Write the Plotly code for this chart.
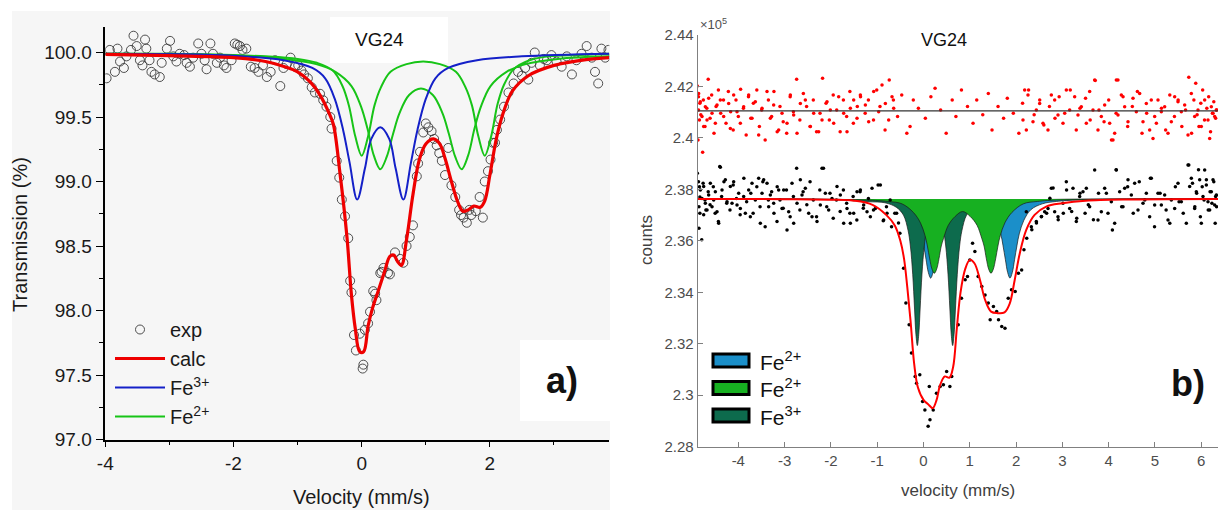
import plotly.graph_objects as go

FONT = "Liberation Sans, Arial, sans-serif"

# ---------------- panel a) : transmission (%) vs velocity (mm/s) ----------------
exp_v = [-3.98, -3.93, -3.85, -3.81, -3.77, -3.71, -3.67, -3.60, -3.56, -3.51, -3.46, -3.42, -3.38, -3.36,
         -3.31, -3.28, -3.23, -3.15, -3.12, -3.04, -2.99, -2.94, -2.89, -2.84, -2.77, -2.73, -2.68, -2.63,
         -2.55, -2.50, -2.45, -2.42, -2.36, -2.32, -2.26, -2.21, -2.15, -2.11, -2.03, -1.98, -1.94, -1.90,
         -1.86, -1.80, -1.73, -1.67, -1.61, -1.54, -1.48, -1.42, -1.35, -1.27, -1.22, -1.17, -1.11, -1.04,
         -0.99, -0.94, -0.90, -0.84, -0.78, -0.73, -0.65, -0.60, -0.55, -0.49, -0.47, -0.39, -0.35, -0.31,
         -0.26, -0.21, -0.18, -0.16, -0.12, -0.09, -0.03, 0.015, 0.026, 0.05, 0.10, 0.13, 0.18, 0.21, 0.23,
         0.29, 0.31, 0.34, 0.41, 0.44, 0.52, 0.60, 0.65, 0.70, 0.75, 0.80, 0.86, 0.88, 0.91, 0.96, 1.00,
         1.04, 1.09, 1.13, 1.17, 1.21, 1.25, 1.30, 1.35, 1.40, 1.46, 1.52, 1.55, 1.59, 1.64, 1.68, 1.71,
         1.78, 1.84, 1.89, 1.92, 1.97, 2.01, 2.05, 2.08, 2.11, 2.16, 2.22, 2.29, 2.37, 2.44, 2.50, 2.55,
         2.60, 2.65, 2.70, 2.78, 2.84, 2.89, 2.96, 3.04, 3.12, 3.20, 3.28, 3.35, 3.43, 3.51, 3.59, 3.64,
         3.69, 3.74, 3.80, 3.85]
exp_t = [99.80, 100.02, 99.85, 100.03, 99.93, 99.88, 99.97, 100.02, 100.13, 100.05, 99.94, 99.90, 100.10, 100.03,
         99.94, 99.85, 99.83, 99.81, 99.92, 100.03, 100.09, 99.97, 99.93, 99.99, 99.98, 99.92, 99.89, 99.96,
         100.07, 99.99, 99.94, 99.87, 100.07, 99.99, 99.92, 99.96, 99.90, 99.88, 99.94, 100.07, 100.06, 100.05,
         100.02, 100.03, 99.89, 99.88, 99.85, 99.90, 99.81, 99.85, 99.94, 99.74, 99.88, 99.91, 99.96, 99.89,
         99.90, 99.86, 99.83, 99.80, 99.73, 99.69, 99.68, 99.63, 99.58, 99.50, 99.41, 99.16, 99.03, 98.86,
         98.73, 98.56, 98.23, 98.14, 97.81, 97.69, 97.82, 97.55, 97.58, 97.85, 97.90, 97.99, 98.15, 98.13, 98.08,
         98.29, 98.30, 98.33, 98.29, 98.28, 98.45, 98.40, 98.37, 98.50, 98.57, 98.66, 99.04, 99.14, 99.23, 99.38, 99.45,
         99.42, 99.39, 99.33, 99.28, 99.22, 99.16, 99.05, 99.26, 98.97, 98.88, 98.78, 98.74, 98.72, 98.68, 98.78, 98.74,
         98.77, 98.88, 98.72, 99.00, 99.08, 99.17, 99.30, 99.30, 99.40, 99.48, 99.58, 99.69, 99.76, 99.85, 99.82, 99.88,
         99.79, 99.92, 100.00, 99.90, 99.95, 99.94, 99.98, 99.93, 99.89, 99.97, 99.83, 99.94, 99.99, 100.05, 99.96, 99.85,
         99.76, 100.03, 99.96, 100.02]

calc_v = [-4.0, -3.0, -2.0, -1.5, -1.2, -1.0, -0.8, -0.65, -0.5, -0.44, -0.34, -0.23, -0.16, -0.10, -0.03, 0.03,
          0.10, 0.17, 0.25, 0.35, 0.44, 0.50, 0.56, 0.62, 0.70, 0.80, 0.90, 1.00, 1.12, 1.22, 1.30, 1.40, 1.50,
          1.58, 1.66, 1.75, 1.85, 1.92, 2.00, 2.10, 2.20, 2.35, 2.60, 3.00, 3.50, 3.86]
calc_t = [99.985, 99.975, 99.96, 99.93, 99.89, 99.85, 99.77, 99.67, 99.52, 99.44, 99.07, 98.57, 98.12, 97.86, 97.68, 97.68,
          97.88, 98.02, 98.14, 98.29, 98.42, 98.43, 98.38, 98.35, 98.55, 98.90, 99.17, 99.29, 99.33, 99.29, 99.18, 99.00, 98.84,
          98.77, 98.78, 98.81, 98.80, 98.85, 99.05, 99.33, 99.52, 99.70, 99.82, 99.90, 99.945, 99.96]

fe3_v = [-4.0, -2.0, -1.22, -0.77, -0.57, -0.42, -0.29, -0.19, -0.07, 0.05, 0.15, 0.29, 0.43, 0.53, 0.65,
         0.77, 0.87, 1.00, 1.15, 1.35, 1.80, 2.50, 3.86]
fe3_t = [99.99, 99.975, 99.94, 99.88, 99.80, 99.64, 99.40, 99.15, 98.86, 99.10, 99.33, 99.42, 99.33, 99.10, 98.86,
         99.15, 99.40, 99.64, 99.80, 99.88, 99.94, 99.97, 99.99]

fe2a_v = [-4.0, -3.0, -2.0, -1.5, -1.0, -0.7, -0.45, -0.3, -0.2, -0.1, 0.0, 0.1, 0.2, 0.3, 0.45, 0.7, 0.96,
          1.22, 1.47, 1.62, 1.72, 1.82, 1.92, 2.02, 2.12, 2.22, 2.37, 2.62, 2.92, 3.4, 3.86]
fe2a_t = [99.99, 99.99, 99.98, 99.97, 99.95, 99.92, 99.86, 99.74, 99.59, 99.35, 99.20, 99.35, 99.59, 99.73, 99.85, 99.91, 99.93,
          99.91, 99.85, 99.73, 99.59, 99.35, 99.20, 99.35, 99.60, 99.75, 99.87, 99.94, 99.97, 99.98, 99.99]

fe2b_v = [-4.0, -2.21, -1.21, -0.71, -0.41, -0.16, -0.01, 0.09, 0.19, 0.29, 0.39, 0.49, 0.59, 0.74, 0.925,
          1.11, 1.26, 1.36, 1.46, 1.56, 1.66, 1.76, 1.86, 2.01, 2.26, 2.56, 3.06, 3.86]
fe2b_t = [99.99, 99.98, 99.95, 99.91, 99.85, 99.74, 99.58, 99.41, 99.20, 99.095, 99.19, 99.37, 99.53, 99.67, 99.72,
          99.67, 99.53, 99.37, 99.19, 99.095, 99.20, 99.41, 99.58, 99.74, 99.85, 99.91, 99.95, 99.97]

a_xticks = [-4, -2, 0, 2]
a_xtick_text = ["-4", "-2", "0", "2"]

# ---------------- panel b) : counts (x 10^5) vs velocity (mm/s) ----------------
cnt_v = [-4.885, -4.86, -4.84, -4.83, -4.85, -4.83, -4.85, -4.79, -4.76, -4.72, -4.70, -4.65, -4.61, -4.54,
         -4.50, -4.43, -4.40, -4.36, -4.31, -4.25, -4.18, -4.11, -4.04, -3.96, -3.88, -3.82, -3.73, -3.68,
         -3.60, -3.53, -3.47, -3.42, -3.35, -3.28, -3.23, -3.16, -3.10, -3.03, -2.96, -2.88, -2.81, -2.74,
         -2.67, -2.60, -2.52, -2.45, -2.38, -2.31, -2.24, -2.16, -2.09, -2.02, -1.95, -1.88, -1.80, -1.73,
         -1.66, -1.59, -1.52, -1.44, -1.37, -1.30, -1.19, -1.08, -0.98, -0.87, -0.80, -0.72, -0.69, -0.62,
         -0.58, -0.54, -0.51, -0.43, -0.38, -0.31, -0.26, -0.18, -0.15, -0.08, -0.02, 0.03, 0.10, 0.125,
         0.14, 0.21, 0.28, 0.36, 0.43, 0.50, 0.57, 0.61, 0.75, 0.82, 0.90, 0.95, 1.00, 1.06, 1.11, 1.18,
         1.26, 1.33, 1.40, 1.44, 1.51, 1.58, 1.62, 1.69, 1.76, 1.83, 1.90, 1.98, 2.05, 2.12, 2.17, 2.23,
         2.34, 2.44, 2.55, 2.66, 2.73, 2.80, 2.91, 3.02, 3.09, 3.20, 3.31, 3.38, 3.49, 3.56, 3.67, 3.78,
         3.95, 4.08, 4.16, 4.28, 4.41, 4.53, 4.66, 4.78, 4.90, 4.99, 5.11, 5.24, 5.32, 5.44, 5.52, 5.61,
         5.73, 5.81, 5.86, 5.90, 5.94, 5.98, 6.02, 6.06, 6.11, 6.15, 6.19, 6.23, 6.27, 6.30, 6.31, 6.33]
cnt_y = [2.3863, 2.3830, 2.3810, 2.3770, 2.3733, 2.3707, 2.3649, 2.3604, 2.3824, 2.3759, 2.3720, 2.3791, 2.3740, 2.3810,
         2.3707, 2.3675, 2.3889, 2.3772, 2.3830, 2.3746, 2.3720, 2.3817, 2.3765, 2.3701, 2.3843, 2.3752, 2.3785, 2.3707,
         2.3810, 2.3733, 2.3830, 2.3655, 2.3759, 2.3791, 2.3707, 2.3810, 2.3759, 2.3727, 2.3798, 2.3694, 2.3772, 2.3882,
         2.3720, 2.3791, 2.3740, 2.3830, 2.3759, 2.3694, 2.3798, 2.3882, 2.3733, 2.3785, 2.3688, 2.3759, 2.3714, 2.3798,
         2.3746, 2.3707, 2.3772, 2.3681, 2.3791, 2.3727, 2.3765, 2.3720, 2.3817, 2.3678, 2.3733, 2.3759, 2.3655, 2.3707,
         2.3707, 2.3669, 2.3630, 2.3494, 2.3358, 2.3274, 2.3164, 2.3073, 2.3047, 2.3080, 2.2976, 2.2943, 2.2879, 2.3034,
         2.2905, 2.2943, 2.3008, 2.3034, 2.3041, 2.3092, 2.3034, 2.3073, 2.3274, 2.3377, 2.3449, 2.3461, 2.3526, 2.3591, 2.3559, 2.3461,
         2.3423, 2.3390, 2.3358, 2.3293, 2.3345, 2.3325, 2.3293, 2.3267, 2.3260, 2.3377, 2.3410, 2.3403, 2.3474, 2.3487, 2.3565, 2.3610,
         2.3643, 2.3669, 2.3695, 2.3707, 2.3766, 2.3805, 2.3682, 2.3707, 2.3798, 2.3714, 2.3688, 2.3785, 2.3707, 2.3740, 2.3682, 2.3785,
         2.3785, 2.3642, 2.3876, 2.3733, 2.3810, 2.3707, 2.3830, 2.3759, 2.3843, 2.3655, 2.3785, 2.3720, 2.3668, 2.3810, 2.3752, 2.3707,
         2.3895, 2.3824, 2.3733, 2.3785, 2.3876, 2.3694, 2.3810, 2.3759, 2.3837, 2.3720, 2.3791, 2.3746, 2.3830, 2.3668, 2.3772, 2.3733]
# more baseline counts, left wing and right wing
cnt_left_v = [-4.820, -4.748, -4.712, -4.640, -4.568, -4.604, -4.496, -4.460, -4.424, -4.388, -4.352, -4.280, -4.244,
              -4.172, -4.136, -4.100, -4.028, -3.992, -3.956, -3.884, -3.848, -3.776, -3.740, -3.704, -3.632, -3.560,
              -3.524, -3.488, -3.452, -3.380, -3.344, -3.308, -3.236, -3.164, -3.128, -3.056, -3.020, -2.948, -2.912,
              -2.840, -2.804, -2.732, -2.660, -2.624, -2.552, -2.480, -2.408, -2.300, -2.228, -2.192, -2.120, -2.048,
              -1.976, -1.868, -1.796, -1.724, -1.652, -1.580, -1.508, -1.436, -1.364, -1.292, -1.220, -1.148, -1.112,
              -1.040, -0.932, -0.860, -0.788, -4.748, -4.784, -4.676, -4.532]
cnt_left_y = [2.3798, 2.3811, 2.3746, 2.3778, 2.3733, 2.3824, 2.3791, 2.3713, 2.3668, 2.3886, 2.3798, 2.3837, 2.3752,
              2.3811, 2.3746, 2.3830, 2.3739, 2.3785, 2.3726, 2.3772, 2.3707, 2.3798, 2.3694, 2.3824, 2.3759, 2.3843,
              2.3668, 2.3785, 2.3837, 2.3824, 2.3733, 2.3778, 2.3746, 2.3675, 2.3798, 2.3726, 2.3798, 2.3642, 2.3713,
              2.3824, 2.3668, 2.3746, 2.3837, 2.3778, 2.3804, 2.3707, 2.3694, 2.3675, 2.3739, 2.3882, 2.3785, 2.3720,
              2.3765, 2.3811, 2.3778, 2.3668, 2.3726, 2.3668, 2.3707, 2.3791, 2.3798, 2.3739, 2.3713, 2.3694, 2.3804,
              2.3726, 2.3817, 2.3681, 2.3707, 2.3701, 2.3765, 2.3720, 2.3759]
cnt_right_v = [2.221, 2.329, 2.437, 2.545, 2.617, 2.689, 2.761, 2.833, 2.905, 3.013, 3.085, 3.157, 3.229, 3.301,
               3.373, 3.445, 3.517, 3.589, 3.697, 3.769, 3.841, 3.913, 3.985, 4.057, 4.129, 4.165, 4.237, 4.309,
               4.345, 4.417, 4.489, 4.561, 4.633, 4.741, 4.813, 4.885, 4.921, 4.993, 5.065, 5.137, 5.209, 5.281,
               5.353, 5.425, 5.497, 5.569, 5.677, 5.713, 5.749, 5.785, 5.857, 5.893, 5.965, 6.001, 6.037, 6.073,
               6.109, 6.145, 6.181, 6.217, 6.253, 6.289, 6.325]
cnt_right_y = [2.3713, 2.3655, 2.3675, 2.3694, 2.3713, 2.3726, 2.3804, 2.3713, 2.3694, 2.3746, 2.3830, 2.3726, 2.3804, 2.3675,
               2.3772, 2.3791, 2.3804, 2.3733, 2.3875, 2.3681, 2.3713, 2.3804, 2.3707, 2.3752, 2.3668, 2.3875, 2.3791, 2.3733,
               2.3804, 2.3837, 2.3778, 2.3824, 2.3720, 2.3746, 2.3785, 2.3694, 2.3843, 2.3739, 2.3785, 2.3739, 2.3778, 2.3681,
               2.3759, 2.3726, 2.3824, 2.3752, 2.3668, 2.3895, 2.3811, 2.3843, 2.3726, 2.3791, 2.3837, 2.3668, 2.3772, 2.3875,
               2.3817, 2.3752, 2.3720, 2.3791, 2.3837, 2.3739, 2.3778]

res_v = [-4.885, -4.86, -4.86, -4.84, -4.87, -4.83, -4.81, -4.77, -4.755, -4.72, -4.68, -4.65, -4.61, -4.575,
         -4.525, -4.48, -4.43, -4.38, -4.32, -4.265, -4.215, -4.165, -4.11, -4.05, -4.0, -3.95, -3.89, -3.83,
         -3.78, -3.73, -3.675, -3.60, -3.545, -3.495, -3.42, -3.35, -3.28, -3.23, -3.16, -3.10, -3.03, -2.955,
         -2.88, -2.81, -2.74, -2.67, -2.595, -2.525, -2.45, -2.38, -2.31, -2.235, -2.18, -2.105, -2.034, -1.95,
         -1.875, -1.80, -1.73, -1.66, -1.59, -1.515, -1.43, -1.36, -1.26, -1.19, -1.08, -1.01, -0.94, -0.83,
         -0.74, -0.65, -0.56, -0.47, -0.36, -0.29, -0.22, -0.11, 0.04, 0.16, 0.25, 0.37, 0.49, 0.62, 0.70,
         0.82, 0.95, 1.07, 1.15, 1.28, 1.40, 1.48, 1.61, 1.73, 1.81, 1.94, 2.06, 2.14, 2.27, 2.39, 2.51,
         2.60, 2.72, 2.84, 2.93, 3.05, 3.17, 3.30, 3.38, 3.50, 3.60, 3.71, 3.79, 3.90, 4.00, 4.06, 4.16,
         4.20, 4.31, 4.41, 4.51, 4.62, 4.72, 4.82, 4.92, 5.03, 5.14, 5.23, 5.32, 5.42, 5.50, 5.58, 5.66,
         5.73, 5.79, 5.84, 5.88, 5.91, 5.95, 5.99, 6.03, 6.07, 6.12, 6.16, 6.20, 6.24, 6.27, 6.31, 6.33]
res_y = [2.4202, 2.4160, 2.4109, 2.4070, 2.3992, 2.4135, 2.4090, 2.3944, 2.4147, 2.4044, 2.4115, 2.4228, 2.4076, 2.4167,
         2.4018, 2.4122, 2.4186, 2.4096, 2.4147, 2.4057, 2.4180, 2.4102, 2.4031, 2.4147, 2.4083, 2.4189, 2.4115, 2.4011,
         2.4160, 2.4076, 2.4135, 2.4186, 2.4044, 2.4109, 2.3992, 2.4147, 2.4083, 2.4180, 2.4024, 2.4122, 2.4063, 2.4018,
         2.4160, 2.4102, 2.4228, 2.4070, 2.4173, 2.4122, 2.4044, 2.4147, 2.4024, 2.4096, 2.4232, 2.4135, 2.4070, 2.4167,
         2.4109, 2.4024, 2.4147, 2.4083, 2.4180, 2.4057, 2.4122, 2.4160, 2.4096, 2.4147, 2.4070, 2.4186, 2.4122, 2.4031,
         2.4225, 2.4147, 2.4083, 2.4167, 2.4018, 2.4044, 2.4147, 2.4115, 2.4076, 2.4160, 2.4193, 2.4109, 2.4018, 2.4147, 2.4083,
         2.4186, 2.4122, 2.4057, 2.4147, 2.4090, 2.4173, 2.4031, 2.4122, 2.4076, 2.4154, 2.4096, 2.4018, 2.4135, 2.4186, 2.4090, 2.4147,
         2.4050, 2.4122, 2.4076, 2.4160, 2.4096, 2.4186, 2.4031, 2.4115, 2.4154, 2.4070, 2.4223, 2.4109, 2.4063, 2.4147, 2.3992, 2.4096,
         2.4225, 2.4160, 2.4044, 2.4122, 2.4180, 2.4018, 2.4096, 2.4147, 2.4057, 2.4115, 2.4031, 2.4167, 2.4083, 2.4147, 2.4044, 2.4109,
         2.4236, 2.4018, 2.4147, 2.4212, 2.4090, 2.4044, 2.4135, 2.4186, 2.4070, 2.4115, 2.4160, 2.4024, 2.4096, 2.4141, 2.4076, 2.4109]
res_left_v = [-4.856, -4.820, -4.784, -4.748, -4.712, -4.676, -4.640, -4.568, -4.496, -4.460, -4.388, -4.316, -4.208,
              -4.172, -4.100, -4.028, -3.956, -3.884, -3.776, -3.704, -3.632, -3.560, -3.488, -3.380, -3.308, -3.236,
              -3.128, -3.056, -2.948, -2.876, -2.804, -2.732, -2.660, -2.552, -2.444, -2.372, -2.264, -2.192, -2.084,
              -2.012, -1.940, -1.832, -1.724, -1.652, -1.580, -1.508, -1.436, -1.364, -1.256, -1.184, -1.076, -0.968,
              -0.896, -0.824, -0.752, -0.680, -0.644]
res_left_y = [2.4173, 2.4141, 2.4083, 2.4044, 2.4121, 2.4070, 2.4154, 2.4096, 2.4057, 2.4128, 2.4147, 2.4083, 2.4134,
              2.4037, 2.4167, 2.4102, 2.4057, 2.4121, 2.4167, 2.4076, 2.4141, 2.4011, 2.4115, 2.4180, 2.4076, 2.4128,
              2.4031, 2.4096, 2.4057, 2.4167, 2.4089, 2.4018, 2.4134, 2.4147, 2.4044, 2.4096, 2.4024, 2.4070, 2.4141,
              2.4109, 2.4057, 2.4160, 2.4096, 2.4024, 2.4115, 2.4147, 2.4076, 2.4167, 2.4128, 2.4063, 2.4180, 2.4102,
              2.4206, 2.4134, 2.4070, 2.4160, 2.4115]
res_right_v = [2.185, 2.257, 2.149, 2.221, 2.365, 2.437, 2.509, 2.581, 2.689, 2.761, 2.833, 2.905, 3.013, 3.085,
               3.157, 3.265, 3.337, 3.409, 3.517, 3.589, 3.661, 3.769, 3.841, 3.913, 4.021, 4.093, 4.129, 4.201,
               4.273, 4.345, 4.417, 4.525, 4.597, 4.669, 4.741, 4.813, 4.885, 4.957, 4.993, 5.065, 5.137, 5.209,
               5.281, 5.353, 5.425, 5.497, 5.569, 5.641, 5.713, 5.785, 5.857, 5.929, 6.001, 6.073, 6.145, 6.181,
               6.217, 6.253, 6.289, 6.325, 3.697, 4.165]
res_right_y = [2.4186, 2.4167, 2.4070, 2.4031, 2.4063, 2.4109, 2.4134, 2.4057, 2.4031, 2.4167, 2.4147, 2.4089, 2.4057, 2.4186,
               2.4109, 2.4160, 2.4089, 2.4121, 2.4057, 2.4180, 2.4109, 2.4031, 2.4083, 2.4128, 2.4057, 2.3992, 2.4018, 2.4089,
               2.4167, 2.4121, 2.4063, 2.4154, 2.4102, 2.4173, 2.4063, 2.4134, 2.4031, 2.3998, 2.4083, 2.4147, 2.4102, 2.4121,
               2.4018, 2.4063, 2.4160, 2.4141, 2.4102, 2.4128, 2.4011, 2.4173, 2.4083, 2.4109, 2.4044, 2.4147, 2.4070, 2.3998,
               2.4121, 2.4096, 2.4083, 2.4109, 2.4225, 2.4225]
res_level = 2.4105

fit_v = [-4.877, -3.0, -2.0, -1.5, -1.1, -0.8, -0.62, -0.5, -0.42, -0.35, -0.28, -0.2, -0.12, 0.0, 0.1, 0.2,
         0.28, 0.36, 0.46, 0.56, 0.64, 0.72, 0.8, 0.9, 1.0, 1.1, 1.22, 1.33, 1.46, 1.6, 1.75, 1.86, 1.97,
         2.08, 2.22, 2.4, 2.65, 3.0, 3.5, 4.5, 6.361]
fit_y = [2.3763, 2.3762, 2.3760, 2.3756, 2.3740, 2.3700, 2.3660, 2.3600, 2.3530, 2.3420, 2.3290, 2.3120, 2.3030, 2.2982, 2.2965, 2.2950,
         2.2980, 2.3040, 2.3073, 2.3068, 2.3110, 2.3260, 2.3400, 2.3490, 2.3526, 2.3513, 2.3448, 2.3371, 2.3325, 2.3319, 2.3322, 2.3355, 2.3448,
         2.3552, 2.3643, 2.3701, 2.3733, 2.3746, 2.3756, 2.3761, 2.3763]

# fitted sub-spectra (filled down from the baseline)
blue_v = [-4.877, -1.345, -0.845, -0.545, -0.295, -0.145, -0.045, 0.005, 0.055, 0.105, 0.155, 0.205, 0.255, 0.305,
          0.355, 0.455, 0.605, 0.855, 1.01, 1.168, 1.418, 1.568, 1.668, 1.718, 1.768, 1.818, 1.868, 1.918, 1.968,
          2.018, 2.068, 2.168, 2.318, 2.568, 2.868, 3.368, 6.361]
blue_y = [2.3763, 2.3759, 2.3753, 2.3744, 2.3721, 2.3680, 2.3627, 2.3581, 2.3528, 2.3477, 2.3455, 2.3477, 2.3528, 2.3581,
          2.3627, 2.3675, 2.3710, 2.3730, 2.3737, 2.3730, 2.3710, 2.3675, 2.3627, 2.3581, 2.3528, 2.3477, 2.3455, 2.3477, 2.3528,
          2.3581, 2.3627, 2.3680, 2.3721, 2.3744, 2.3753, 2.3759, 2.3763]
dkgr_v = [-4.877, -2.0, -1.2, -0.833, -0.583, -0.433, -0.333, -0.283, -0.233, -0.193, -0.163, -0.133, -0.103, -0.073,
          -0.033, 0.017, 0.067, 0.167, 0.25, 0.33, 0.43, 0.48, 0.53, 0.57, 0.60, 0.63, 0.66, 0.69, 0.73, 0.78, 0.83,
          0.93, 1.08, 1.33, 1.7, 2.5, 6.361]
dkgr_y = [2.3763, 2.3760, 2.3752, 2.3748, 2.3730, 2.3700, 2.3640, 2.3580, 2.3470, 2.3335, 2.3235, 2.3193, 2.3235, 2.3335,
          2.3470, 2.3580, 2.3640, 2.3690, 2.3700, 2.3690, 2.3640, 2.3580, 2.3470, 2.3335, 2.3235, 2.3193, 2.3235, 2.3335, 2.3470, 2.3580, 2.3640,
          2.3700, 2.3730, 2.3748, 2.3752, 2.3760, 2.3763]
green_v = [-4.877, -1.266, -0.766, -0.466, -0.216, -0.066, 0.034, 0.084, 0.134, 0.184, 0.234, 0.284, 0.334, 0.384,
           0.434, 0.534, 0.684, 0.846, 1.008, 1.158, 1.258, 1.308, 1.358, 1.408, 1.458, 1.508, 1.558, 1.608, 1.658,
           1.758, 1.908, 2.158, 2.458, 2.958, 6.361]
green_y = [2.3763, 2.3759, 2.3753, 2.3744, 2.3710, 2.3670, 2.3620, 2.3580, 2.3530, 2.3490, 2.3474, 2.3490, 2.3530, 2.3580,
           2.3610, 2.3660, 2.3695, 2.3714, 2.3695, 2.3660, 2.3610, 2.3580, 2.3530, 2.3490, 2.3474, 2.3490, 2.3530, 2.3580, 2.3620,
           2.3670, 2.3710, 2.3744, 2.3753, 2.3759, 2.3763]

b_xticks = [-4, -3, -2, -1, 0, 1, 2, 3, 4, 5, 6]
b_xtick_text = ["-4", "-3", "-2", "-1", "0", "1", "2", "3", "4", "5", "6"]
b_yticks = [2.28, 2.30, 2.32, 2.34, 2.36, 2.38, 2.40, 2.42, 2.44]
b_ytick_text = ["2.28", "2.3", "2.32", "2.34", "2.36", "2.38", "2.4", "2.42", "2.44"]

legend_b = [("Fe<sup>2+</sup>", "#1b8fc9"), ("Fe<sup>2+</sup>", "#17b021"), ("Fe<sup>3+</sup>", "#0d6b4d")]

W, H = 1218, 510


def px(x):
    return x / W


def py(y):
    return 1 - y / H


fig = go.Figure()

# panel a traces
fig.add_trace(go.Scatter(x=exp_v, y=exp_t, mode="markers", name="exp", legendrank=1,
                         marker=dict(symbol="circle-open", size=9, color="#3c3c3c", line=dict(width=0.9)),
                         xaxis="x", yaxis="y"))
fig.add_trace(go.Scatter(x=fe2a_v, y=fe2a_t, mode="lines", name="Fe<sup>2+</sup>", legendgroup="fe2", legendrank=4,
                         line=dict(color="#17c417", width=2, shape="spline"), xaxis="x", yaxis="y"))
fig.add_trace(go.Scatter(x=fe2b_v, y=fe2b_t, mode="lines", name="Fe<sup>2+</sup>", legendgroup="fe2", showlegend=False,
                         line=dict(color="#17c417", width=2, shape="spline"), xaxis="x", yaxis="y"))
fig.add_trace(go.Scatter(x=fe3_v, y=fe3_t, mode="lines", name="Fe<sup>3+</sup>", legendrank=3,
                         line=dict(color="#1420c8", width=2, shape="spline"), xaxis="x", yaxis="y"))
fig.add_trace(go.Scatter(x=calc_v, y=calc_t, mode="lines", name="calc", legendrank=2,
                         line=dict(color="#ee0000", width=3.2, shape="spline"), xaxis="x", yaxis="y"))

# panel b traces
for vx, vy, col in [(blue_v, blue_y, legend_b[0][1]), (dkgr_v, dkgr_y, legend_b[2][1]),
                    (green_v, green_y, legend_b[1][1])]:
    fig.add_trace(go.Scatter(x=vx, y=vy, mode="lines", fill="toself", fillcolor=col, showlegend=False,
                             line=dict(color="#1a1a1a", width=0.7, shape="spline"), xaxis="x2", yaxis="y2"))
fig.add_trace(go.Scatter(x=cnt_v + cnt_left_v + cnt_right_v, y=cnt_y + cnt_left_y + cnt_right_y,
                         mode="markers", showlegend=False,
                         marker=dict(size=3.5, color="black"), xaxis="x2", yaxis="y2"))
fig.add_trace(go.Scatter(x=fit_v, y=fit_y, mode="lines", showlegend=False,
                         line=dict(color="#ff0000", width=2, shape="spline"), xaxis="x2", yaxis="y2"))
fig.add_trace(go.Scatter(x=res_v + res_left_v + res_right_v, y=res_y + res_left_y + res_right_y,
                         mode="markers", showlegend=False,
                         marker=dict(size=3.5, color="#ff0000"), xaxis="x2", yaxis="y2"))
fig.add_trace(go.Scatter(x=[fit_v[0], fit_v[-1]], y=[res_level, res_level], mode="lines", showlegend=False,
                         line=dict(color="#333333", width=1.2), xaxis="x2", yaxis="y2"))

shapes = [
    dict(type="rect", xref="paper", yref="paper", x0=px(12), x1=px(610), y0=0, y1=py(11),
         fillcolor="#f6f6f6", line=dict(width=0), layer="below"),
    dict(type="rect", xref="paper", yref="paper", x0=px(330), x1=px(448), y0=py(63), y1=py(17),
         fillcolor="white", line=dict(width=0), layer="below"),
    dict(type="rect", xref="paper", yref="paper", x0=px(520), x1=px(610), y0=py(421), y1=py(340),
         fillcolor="white", line=dict(width=0), layer="below"),
]
annotations = [
    dict(text="VG24", x=px(379), y=py(40), font=dict(size=19, color="#111")),
    dict(text="<b>a)</b>", x=px(562), y=py(380), font=dict(size=36, color="#111")),
    dict(text="Transmission (%)", x=px(20), y=py(235), textangle=-90, font=dict(size=20, color="#1a1a1a")),
    dict(text="Velocity (mm/s)", x=px(361), y=py(497), font=dict(size=20, color="#1a1a1a")),
    dict(text="VG24", x=px(944), y=py(40), font=dict(size=18, color="#111")),
    dict(text="<b>b)</b>", x=px(1188), y=py(383), font=dict(size=36, color="#111")),
    dict(text="counts", x=px(646), y=py(240), textangle=-90, font=dict(size=17, color="#404040")),
    dict(text="velocity (mm/s)", x=px(958), y=py(490), font=dict(size=17, color="#404040")),
    dict(text="\u00d710<sup>5</sup>", x=px(698), y=py(24), xanchor="left", font=dict(size=13, color="#505050")),
]
for i, (lab, col) in enumerate(legend_b):
    yc = 360.5 + 27.5 * i
    shapes.append(dict(type="rect", xref="paper", yref="paper", x0=px(713), x1=px(749), y0=py(yc + 6.5),
                       y1=py(yc - 6.5), fillcolor=col, line=dict(color="black", width=3)))
    annotations.append(dict(text=lab, x=px(758), y=py(yc), xanchor="left",
                            font=dict(size=21, color="#111")))
for a in annotations:
    a.update(xref="paper", yref="paper", showarrow=False)
    a.setdefault("xanchor", "center")
    a["yanchor"] = "middle"

axis_a = dict(showline=True, linecolor="black", linewidth=1.5, showgrid=False, zeroline=False,
              ticks="outside", tickcolor="black", tickwidth=1.3, automargin=False,
              tickfont=dict(size=19, color="#1a1a1a", family=FONT))
axis_b = dict(showline=True, linecolor="#808080", linewidth=1.2, showgrid=False, zeroline=False,
              ticks="inside", ticklen=5, tickcolor="#808080", tickwidth=1, automargin=False,
              tickfont=dict(size=15, color="#4d4d4d", family=FONT))

fig.update_layout(
    width=W, height=H, autosize=False,
    margin=dict(l=0, r=0, t=0, b=0, pad=0, autoexpand=False),
    paper_bgcolor="white", plot_bgcolor="rgba(0,0,0,0)",
    font=dict(family=FONT),
    xaxis=dict(axis_a, domain=[px(105.3), px(609.3)], range=[-4, 3.863], anchor="y",
               tickvals=a_xticks, ticktext=a_xtick_text, ticklen=6,
               minor=dict(tickvals=[-3, -1, 1, 3], ticks="outside", ticklen=4, tickcolor="black",
                          tickwidth=1.3, showgrid=False)),
    yaxis=dict(axis_a, domain=[py(439.5), py(26.7)], range=[97, 100.2], anchor="x",
               tick0=97, dtick=0.5, tickformat=".1f", ticklen=8,
               minor=dict(dtick=0.25, tick0=97, ticks="outside", ticklen=5, tickcolor="black",
                          tickwidth=1.3, showgrid=False)),
    xaxis2=dict(axis_b, domain=[px(697.7), 1.0], range=[-4.877, 6.361], anchor="y2",
                tickvals=b_xticks, ticktext=b_xtick_text),
    yaxis2=dict(axis_b, domain=[py(446.7), py(35)], range=[2.28, 2.44], anchor="x2",
                tickvals=b_yticks, ticktext=b_ytick_text),
    legend=dict(x=px(110), y=py(310), xanchor="left", yanchor="top", bgcolor="rgba(0,0,0,0)",
                font=dict(size=20, color="#1a1a1a", family=FONT), itemwidth=50, tracegroupgap=0),
    shapes=shapes, annotations=annotations,
)

# pin the figure to the top-left corner of the window so it fills the 1218x510 view exactly
pin = ("document.body.style.margin='0';document.body.style.overflow='hidden';"
       "var g=document.getElementsByClassName('plotly-graph-div')[0];"
       "g.style.position='fixed';g.style.left='0px';g.style.top='0px';")
fig.write_html("out.html", config={"displayModeBar": False}, post_script=pin)
